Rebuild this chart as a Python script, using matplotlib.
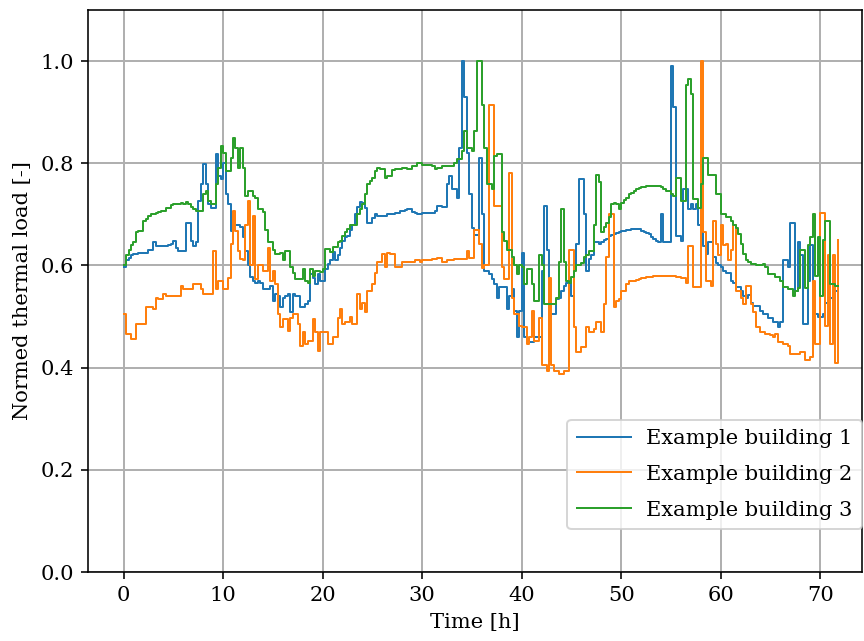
import numpy as np
import matplotlib
matplotlib.use("Agg")
import matplotlib.pyplot as plt

plt.rcParams['font.family'] = ['DejaVu Serif']
plt.rcParams['font.size'] = 10.5

# quarter-hourly values, one row per hour
building_1 = [
    [0.596, 0.61, 0.615, 0.62], [0.622, 0.622, 0.625, 0.625], [0.625, 0.625, 0.63, 0.63],
    [0.645, 0.638, 0.638, 0.638], [0.638, 0.638, 0.64, 0.642], [0.648, 0.635, 0.629, 0.629],
    [0.629, 0.684, 0.684, 0.648], [0.638, 0.645, 0.726, 0.76], [0.798, 0.76, 0.72, 0.713],
    [0.713, 0.818, 0.775, 0.77], [0.80, 0.74, 0.72, 0.668], [0.68, 0.68, 0.68, 0.675],
    [0.655, 0.629, 0.60, 0.577], [0.57, 0.565, 0.57, 0.565], [0.554, 0.554, 0.554, 0.56],
    [0.531, 0.545, 0.54, 0.518], [0.537, 0.54, 0.545, 0.508], [0.544, 0.54, 0.54, 0.518],
    [0.518, 0.525, 0.531, 0.583], [0.576, 0.563, 0.583, 0.57], [0.57, 0.593, 0.603, 0.61],
    [0.626, 0.61, 0.62, 0.635], [0.648, 0.655, 0.658, 0.67], [0.68, 0.70, 0.715, 0.725],
    [0.723, 0.713, 0.684, 0.684], [0.693, 0.70, 0.697, 0.697], [0.697, 0.697, 0.70, 0.70],
    [0.70, 0.703, 0.703, 0.706], [0.706, 0.708, 0.71, 0.71], [0.705, 0.703, 0.70, 0.70],
    [0.703, 0.703, 0.703, 0.703], [0.703, 0.706, 0.717, 0.717], [0.714, 0.714, 0.76, 0.775],
    [0.75, 0.75, 0.733, 0.83], [1.0, 0.93, 0.82, 0.74], [0.674, 0.66, 0.66, 0.81],
    [0.70, 0.59, 0.59, 0.583], [0.573, 0.563, 0.537, 0.557], [0.557, 0.557, 0.515, 0.54],
    [0.554, 0.511, 0.459, 0.51], [0.625, 0.459, 0.45, 0.45], [0.45, 0.459, 0.459, 0.459],
    [0.59, 0.717, 0.63, 0.534], [0.505, 0.505, 0.534, 0.537], [0.55, 0.56, 0.565, 0.573],
    [0.54, 0.596, 0.642, 0.77], [0.77, 0.70, 0.59, 0.612], [0.62, 0.645, 0.645, 0.642],
    [0.645, 0.65, 0.652, 0.658], [0.66, 0.662, 0.664, 0.665], [0.668, 0.668, 0.67, 0.67],
    [0.671, 0.671, 0.671, 0.671], [0.668, 0.666, 0.664, 0.662], [0.655, 0.652, 0.648, 0.645],
    [0.70, 0.645, 0.645, 0.645], [0.99, 0.91, 0.658, 0.658], [0.648, 0.75, 0.75, 0.71],
    [0.72, 0.71, 0.72, 0.68], [0.665, 0.638, 0.622, 0.645], [0.645, 0.617, 0.604, 0.60],
    [0.596, 0.59, 0.586, 0.586], [0.57, 0.565, 0.557, 0.557], [0.55, 0.54, 0.537, 0.543],
    [0.527, 0.52, 0.52, 0.52], [0.511, 0.505, 0.505, 0.498], [0.498, 0.489, 0.489, 0.479],
    [0.489, 0.61, 0.61, 0.596], [0.684, 0.684, 0.55, 0.645], [0.62, 0.485, 0.485, 0.57],
    [0.64, 0.505, 0.505, 0.50], [0.50, 0.505, 0.527, 0.527], [0.537, 0.54, 0.55, 0.55],
]

building_2 = [
    [0.505, 0.466, 0.466, 0.456], [0.456, 0.485, 0.485, 0.485], [0.485, 0.518, 0.518, 0.518],
    [0.515, 0.537, 0.534, 0.534], [0.544, 0.54, 0.54, 0.54], [0.54, 0.54, 0.54, 0.56],
    [0.554, 0.554, 0.554, 0.554], [0.563, 0.563, 0.563, 0.554], [0.544, 0.544, 0.544, 0.544],
    [0.628, 0.554, 0.57, 0.57], [0.554, 0.554, 0.576, 0.642], [0.707, 0.668, 0.628, 0.612],
    [0.61, 0.68, 0.726, 0.60], [0.697, 0.573, 0.60, 0.60], [0.59, 0.59, 0.635, 0.57],
    [0.59, 0.563, 0.505, 0.479], [0.495, 0.495, 0.472, 0.498], [0.505, 0.505, 0.485, 0.443],
    [0.47, 0.446, 0.453, 0.453], [0.495, 0.47, 0.433, 0.469], [0.469, 0.469, 0.446, 0.446],
    [0.46, 0.46, 0.498, 0.515], [0.485, 0.49, 0.49, 0.50], [0.485, 0.485, 0.544, 0.515],
    [0.527, 0.508, 0.55, 0.55], [0.563, 0.586, 0.606, 0.606], [0.622, 0.596, 0.625, 0.622],
    [0.622, 0.596, 0.596, 0.596], [0.606, 0.606, 0.606, 0.606], [0.606, 0.61, 0.61, 0.606],
    [0.61, 0.61, 0.61, 0.61], [0.612, 0.612, 0.615, 0.615], [0.606, 0.606, 0.61, 0.61],
    [0.61, 0.612, 0.612, 0.612], [0.612, 0.612, 0.628, 0.615], [0.615, 0.67, 0.67, 0.642],
    [0.595, 0.60, 0.60, 0.915], [0.915, 0.717, 0.717, 0.717], [0.596, 0.573, 0.573, 0.78],
    [0.537, 0.505, 0.505, 0.482], [0.48, 0.48, 0.446, 0.459], [0.51, 0.453, 0.453, 0.498],
    [0.406, 0.406, 0.394, 0.576], [0.406, 0.394, 0.394, 0.388], [0.388, 0.394, 0.394, 0.63],
    [0.63, 0.479, 0.43, 0.43], [0.44, 0.44, 0.479, 0.47], [0.47, 0.475, 0.489, 0.489],
    [0.47, 0.525, 0.616, 0.70], [0.70, 0.518, 0.531, 0.534], [0.55, 0.55, 0.563, 0.57],
    [0.57, 0.57, 0.572, 0.574], [0.575, 0.576, 0.577, 0.578], [0.578, 0.579, 0.58, 0.58],
    [0.58, 0.58, 0.58, 0.58], [0.58, 0.579, 0.578, 0.577], [0.576, 0.576, 0.565, 0.638],
    [0.638, 0.558, 0.558, 0.558], [1.0, 0.665, 0.57, 0.57], [0.56, 0.687, 0.642, 0.62],
    [0.68, 0.64, 0.642, 0.61], [0.63, 0.68, 0.55, 0.55], [0.537, 0.524, 0.56, 0.56],
    [0.524, 0.508, 0.479, 0.479], [0.469, 0.469, 0.466, 0.466], [0.463, 0.46, 0.466, 0.45],
    [0.45, 0.446, 0.446, 0.443], [0.427, 0.427, 0.427, 0.427], [0.43, 0.43, 0.414, 0.414],
    [0.42, 0.57, 0.446, 0.446], [0.703, 0.703, 0.482, 0.62], [0.446, 0.62, 0.41, 0.65],
]

building_3 = [
    [0.60, 0.62, 0.63, 0.64], [0.645, 0.665, 0.668, 0.668], [0.687, 0.69, 0.697, 0.70],
    [0.70, 0.703, 0.705, 0.707], [0.707, 0.713, 0.713, 0.718], [0.72, 0.72, 0.72, 0.722],
    [0.72, 0.725, 0.72, 0.715], [0.71, 0.707, 0.707, 0.707], [0.74, 0.745, 0.726, 0.72],
    [0.72, 0.76, 0.79, 0.834], [0.82, 0.785, 0.785, 0.81], [0.85, 0.83, 0.79, 0.83],
    [0.79, 0.736, 0.745, 0.745], [0.735, 0.733, 0.71, 0.71], [0.704, 0.67, 0.645, 0.645],
    [0.63, 0.623, 0.623, 0.625], [0.61, 0.629, 0.629, 0.596], [0.586, 0.573, 0.573, 0.573],
    [0.593, 0.57, 0.565, 0.593], [0.58, 0.59, 0.59, 0.588], [0.593, 0.632, 0.632, 0.626],
    [0.636, 0.636, 0.645, 0.648], [0.658, 0.665, 0.672, 0.68], [0.68, 0.68, 0.70, 0.71],
    [0.72, 0.74, 0.76, 0.765], [0.772, 0.785, 0.79, 0.788], [0.788, 0.772, 0.775, 0.775],
    [0.786, 0.788, 0.788, 0.788], [0.79, 0.79, 0.788, 0.788], [0.795, 0.795, 0.80, 0.80],
    [0.797, 0.797, 0.797, 0.797], [0.795, 0.788, 0.79, 0.79], [0.795, 0.795, 0.795, 0.795],
    [0.795, 0.80, 0.808, 0.808], [0.824, 0.863, 0.83, 0.83], [0.824, 0.863, 1.0, 1.0],
    [0.915, 0.83, 0.76, 0.76], [0.75, 0.814, 0.818, 0.818], [0.665, 0.648, 0.63, 0.63],
    [0.617, 0.60, 0.583, 0.60], [0.597, 0.563, 0.593, 0.593], [0.563, 0.531, 0.531, 0.621],
    [0.60, 0.524, 0.524, 0.524], [0.524, 0.524, 0.537, 0.606], [0.71, 0.606, 0.57, 0.565],
    [0.577, 0.59, 0.60, 0.60], [0.605, 0.617, 0.62, 0.628], [0.628, 0.68, 0.778, 0.763],
    [0.665, 0.675, 0.684, 0.694], [0.72, 0.723, 0.72, 0.71], [0.723, 0.728, 0.733, 0.74],
    [0.742, 0.746, 0.75, 0.752], [0.754, 0.754, 0.756, 0.756], [0.756, 0.756, 0.756, 0.755],
    [0.754, 0.75, 0.746, 0.745], [0.74, 0.736, 0.772, 0.772], [0.726, 0.726, 0.954, 0.964],
    [0.935, 0.73, 0.73, 0.713], [0.76, 0.81, 0.81, 0.778], [0.778, 0.778, 0.74, 0.74],
    [0.70, 0.70, 0.694, 0.694], [0.687, 0.68, 0.674, 0.661], [0.642, 0.622, 0.61, 0.606],
    [0.603, 0.603, 0.60, 0.60], [0.60, 0.603, 0.596, 0.583], [0.583, 0.583, 0.577, 0.577],
    [0.57, 0.557, 0.557, 0.554], [0.554, 0.54, 0.55, 0.556], [0.63, 0.63, 0.556, 0.64],
    [0.655, 0.70, 0.58, 0.655], [0.54, 0.65, 0.687, 0.687], [0.563, 0.563, 0.56, 0.56],
]

labels = ["Example building 1", "Example building 2", "Example building 3"]
series = [building_1, building_2, building_3]
colors = ["#1f77b4", "#ff7f0e", "#2ca02c"]
step_h = 0.25

fig = plt.figure(figsize=(6.0, 641 / 144), dpi=144)
ax = fig.add_axes([88 / 864, 1 - 572 / 641, (862 - 88) / 864, (572 - 10) / 641])

for vals, lab, col in zip(series, labels, colors):
    v = np.array(vals).ravel()
    t = np.arange(len(v)) * step_h
    ax.step(t, v, where='post', color=col, lw=1.0, label=lab)

ax.set_xlim(-3.57, 74.2)
ax.set_ylim(0, 1.1)
ax.set_xticks(np.arange(0, 71, 10))
ax.set_yticks(np.arange(0, 1.01, 0.2))
ax.grid(True, color='#b0b0b0', lw=1.0)
ax.set_axisbelow(True)
ax.set_xlabel("Time [h]")
ax.set_ylabel("Normed thermal load [-]")
ax.legend(loc='lower right', bbox_to_anchor=(1.0, 0.0765), borderaxespad=0,
          handlelength=2.6, handletextpad=0.7, labelspacing=0.8, borderpad=0.45)

fig.savefig("out.png", dpi=144)
